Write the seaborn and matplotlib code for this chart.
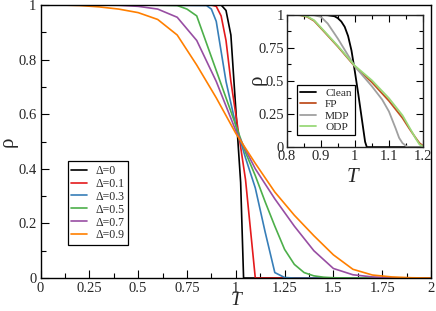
import numpy as np
import pandas as pd
import matplotlib
matplotlib.use("Agg")
import matplotlib.pyplot as plt
import seaborn as sns
from matplotlib.ticker import MultipleLocator

# main panel: rho(T) for several disorder strengths
T_d0 = [0.0, 0.5, 0.9, 0.925, 0.95, 0.975, 1.0, 1.025, 1.04, 1.1, 1.5, 2.0]
rho_d0 = [1.0, 1.0, 1.0, 1.0, 0.98, 0.89, 0.62, 0.35, 0.0, 0.0, 0.0, 0.0]

T_d1 = [0.0, 0.5, 0.875, 0.9, 0.925, 0.95, 0.975, 1.0, 1.025, 1.05, 1.075, 1.1, 1.5, 2.0]
rho_d1 = [1.0, 1.0, 1.0, 0.995, 0.96, 0.87, 0.72, 0.6, 0.48, 0.36, 0.18, 0.0, 0.0, 0.0]

T_d3 = [0.0, 0.5, 0.85, 0.875, 0.9, 0.95, 1.0, 1.05, 1.1, 1.15, 1.2, 1.25, 1.3, 1.5, 2.0]
rho_d3 = [1.0, 1.0, 0.998, 0.985, 0.94, 0.72, 0.56, 0.44, 0.33, 0.17, 0.02, 0.002, 0.0, 0.0, 0.0]

T_d5 = [0.0, 0.5, 0.7, 0.75, 0.8, 0.85, 0.9, 0.95, 1.0, 1.05, 1.1, 1.15, 1.2, 1.25,
        1.3, 1.35, 1.4, 1.45, 1.5, 1.6, 2.0]
rho_d5 = [1.0, 1.0, 0.998, 0.985, 0.96, 0.86, 0.76, 0.66, 0.56, 0.46, 0.375, 0.28, 0.19,
          0.105, 0.05, 0.02, 0.008, 0.003, 0.001, 0.0, 0.0]

T_d7 = [0.0, 0.1, 0.2, 0.3, 0.4, 0.5, 0.6, 0.7, 0.8, 0.9, 1.0, 1.1, 1.2, 1.3, 1.4, 1.5,
        1.6, 1.7, 1.8, 1.9, 2.0]
rho_d7 = [1.0, 1.0, 1.0, 1.0, 0.999, 0.995, 0.985, 0.955, 0.87, 0.72, 0.54, 0.40, 0.29,
          0.19, 0.10, 0.035, 0.012, 0.004, 0.001, 0.0, 0.0]

T_d9 = [0.0, 0.1, 0.2, 0.3, 0.4, 0.5, 0.6, 0.7, 0.8, 0.9, 1.0, 1.1, 1.2, 1.3, 1.4, 1.5,
        1.6, 1.7, 1.8, 1.9, 2.0]
rho_d9 = [1.0, 1.0, 0.998, 0.993, 0.985, 0.972, 0.947, 0.89, 0.78, 0.66, 0.53, 0.42, 0.315,
          0.23, 0.155, 0.085, 0.032, 0.011, 0.004, 0.001, 0.0]

main_labels = ["Δ=0", "Δ=0.1", "Δ=0.3", "Δ=0.5", "Δ=0.7", "Δ=0.9"]
main_T = [T_d0, T_d1, T_d3, T_d5, T_d7, T_d9]
main_rho = [rho_d0, rho_d1, rho_d3, rho_d5, rho_d7, rho_d9]

# inset: comparison near the transition
T_clean = [0.8, 0.9, 0.92, 0.94, 0.95, 0.96, 0.97, 0.98, 0.99, 1.0, 1.01, 1.02, 1.03, 1.035, 1.2]
rho_clean = [1.0, 1.0, 0.998, 0.99, 0.975, 0.95, 0.91, 0.84, 0.73, 0.57, 0.40, 0.22, 0.04, 0.0, 0.0]

T_fp = [0.8, 0.82, 0.84, 0.86, 0.88, 0.9, 0.95, 1.0, 1.05, 1.1, 1.14, 1.16, 1.18, 1.19, 1.2]
rho_fp = [1.0, 1.0, 0.998, 0.985, 0.955, 0.9, 0.76, 0.61, 0.49, 0.35, 0.22, 0.14, 0.065, 0.03, 0.01]

T_mdp = [0.8, 0.86, 0.88, 0.9, 0.92, 0.95, 1.0, 1.05, 1.08, 1.1, 1.12, 1.13, 1.14, 1.155, 1.2]
rho_mdp = [1.0, 1.0, 0.998, 0.985, 0.935, 0.82, 0.61, 0.46, 0.36, 0.27, 0.14, 0.07, 0.03, 0.0, 0.0]

T_odp = [0.8, 0.82, 0.84, 0.86, 0.88, 0.9, 0.95, 1.0, 1.05, 1.1, 1.14, 1.16, 1.18, 1.19, 1.2]
rho_odp = [1.0, 1.0, 0.998, 0.988, 0.96, 0.905, 0.765, 0.615, 0.505, 0.37, 0.24, 0.15, 0.06, 0.02, 0.005]

inset_labels = ["Clean", "FP", "MDP", "ODP"]
inset_T = [T_clean, T_fp, T_mdp, T_odp]
inset_rho = [rho_clean, rho_fp, rho_mdp, rho_odp]

main_df = pd.concat([pd.DataFrame({"T": t, "rho": r, "series": lab})
                     for t, r, lab in zip(main_T, main_rho, main_labels)])
inset_df = pd.concat([pd.DataFrame({"T": t, "rho": r, "series": lab})
                      for t, r, lab in zip(inset_T, inset_rho, inset_labels)])

sns.set_theme(style="ticks")
plt.rcParams["font.family"] = ["Liberation Serif", "DejaVu Serif"]

main_colors = ["#000000", "#e41a1c", "#377eb8", "#4daf4a", "#984ea3", "#ff7f00"]
inset_colors = ["#000000", "#bf5122", "#a0a0a0", "#9ad979"]

fig = plt.figure(figsize=(4.36, 3.11), dpi=100)
ax = fig.add_axes([0.093, 0.106, 0.8955, 0.878])

sns.lineplot(data=main_df, x="T", y="rho", hue="series", hue_order=main_labels,
             palette=main_colors, estimator=None, sort=False, linewidth=1.2, ax=ax)

ax.set_xlim(0, 2)
ax.set_ylim(0, 1)
ax.set_xticks([0, 0.25, 0.5, 0.75, 1, 1.25, 1.5, 1.75, 2])
ax.set_xticklabels(["0", "0.25", "0.5", "0.75", "1", "1.25", "1.5", "1.75", "2"])
ax.set_yticks([0, 0.2, 0.4, 0.6, 0.8, 1])
ax.set_yticklabels(["0", "0.2", "0.4", "0.6", "0.8", "1"])
ax.xaxis.set_minor_locator(MultipleLocator(0.125))
ax.yaxis.set_minor_locator(MultipleLocator(0.1))
ax.tick_params(which="both", direction="in", labelsize=10.5, pad=3, width=0.8, color="black")
ax.tick_params(which="major", length=6)
ax.tick_params(which="minor", length=3.5)
for s in ax.spines.values():
    s.set_linewidth(1.0)
    s.set_color("black")
ax.set_xlabel("T", fontsize=14, style="italic")
ax.set_ylabel("ρ", fontsize=15)
ax.xaxis.set_label_coords(0.5, -0.052)
ax.yaxis.set_label_coords(-0.058, 0.5)

h, l = ax.get_legend_handles_labels()
ax.legend(h, l, loc="lower left", bbox_to_anchor=(0.07, 0.121), borderaxespad=0,
          fontsize=8.5, frameon=True, fancybox=False, edgecolor="black", framealpha=1,
          handlelength=1.3, handletextpad=0.7, labelspacing=0.08, borderpad=0.3)
ax.get_legend().get_frame().set_linewidth(0.9)

# inset
ins = fig.add_axes([0.658, 0.527, 0.312, 0.425])
sns.lineplot(data=inset_df, x="T", y="rho", hue="series", hue_order=inset_labels,
             palette=inset_colors, estimator=None, sort=False, linewidth=1.3, ax=ins)
ins.set_xlim(0.8, 1.2)
ins.set_ylim(0, 1)
ins.set_xticks([0.8, 0.9, 1.0, 1.1, 1.2])
ins.set_xticklabels(["0.8", "0.9", "1", "1.1", "1.2"])
ins.set_yticks([0, 0.25, 0.5, 0.75, 1])
ins.set_yticklabels(["0", "0.25", "0.5", "0.75", "1"])
ins.xaxis.set_minor_locator(MultipleLocator(0.05))
ins.yaxis.set_minor_locator(MultipleLocator(0.125))
ins.tick_params(which="both", direction="in", top=True, right=True, labelsize=10.5, pad=2,
                width=0.8, color="black")
ins.tick_params(which="major", length=5)
ins.tick_params(which="minor", length=3)
for s in ins.spines.values():
    s.set_linewidth(1.0)
    s.set_color("#222222")
ins.set_xlabel("T", fontsize=15, style="italic")
ins.set_ylabel("ρ", fontsize=15)
ins.xaxis.set_label_coords(0.485, -0.155)
ins.yaxis.set_label_coords(-0.15, 0.51)

h2, l2 = ins.get_legend_handles_labels()
ins.legend(h2, l2, loc="lower left", bbox_to_anchor=(0.071, 0.091), borderaxespad=0,
           fontsize=8.2, frameon=True, fancybox=False, edgecolor="black", framealpha=1,
           handlelength=1.4, handletextpad=0.8, labelspacing=0.1, borderpad=0.3)
ins.get_legend().get_frame().set_linewidth(0.9)

fig.savefig("out.png", dpi=100)
